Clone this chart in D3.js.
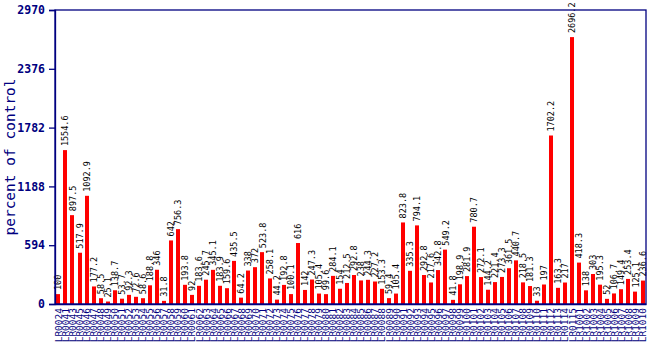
<!DOCTYPE html>
<html><head><meta charset="utf-8">
<script src="https://cdn.jsdelivr.net/npm/d3@7"></script>
<style>body{margin:0;background:#fff;}svg{display:block;}</style>
</head><body>
<svg id="c" width="650" height="350"></svg>
<script>
const categories = ["LR0024","LR0041","LR0043","LR0045","LR0046","LR0047","LR0048","LR0049","LR0050","LR0051",
"LR0052","LR0053","LR0054","LR0055","LR0056","LR0057","LR0058","LR0059","LR0060","LR0061",
"LR0062","LR0063","LR0064","LR0065","LR0066","LR0067","LR0068","LR0069","LR0070","LR0071",
"LR0072","LR0073","LR0074","LR0075","LR0076","LR0077","LR0078","LR0079","LR0080","LR0081",
"LR0082","LR0083","LR0084","LR0085","LR0086","LR0087","LR0088","LR0089","LR0090","LR0091",
"LR0092","LR0093","LR0094","LR0095","LR0096","LR0097","LR0098","LR0099","LR0100","LR0101",
"LR0102","LR0103","LR0104","LR0105","LR0106","LR0107","LR0108","LR0109","LR0110","LR0111",
"LR0112","LR0113","LR0114","LR0115","LR1001","LR1002","LR1003","LR1004","LR1005","LR1006",
"LR1007","LR1008","LR1009","LR1010"];
const values = [100,1554.6,897.5,517.9,1092.9,177.2,58.5,25.1,138.7,53.7,
92.3,72.6,58.6,188.8,346,31.8,642,756.3,193.8,92,
183.6,245.7,345.1,183.9,159.6,435.5,64.2,338,372,523.8,
258.1,44.2,192.8,100.1,616,142,247.3,105.4,99.6,284.1,
154,212.5,292.8,238,244.3,227.2,153.3,59.4,105.4,823.8,
335.3,794.1,292.8,217.6,342.8,549.2,41.8,198.9,281.9,780.7,
272.1,144.2,221.4,273.3,361.5,440.7,218.5,181.3,33,197,
1702.2,163.3,217,2696.2,418.3,138,303,195.3,52,106.7,
149.4,253.4,125.1,236.6];
const yTicks = [0,594,1188,1782,2376,2970];
const yTitle = "percent of control";

const navy = "#000080";
const m = {left:55, right:646, top:10, bottom:304};
const svg = d3.select("#c");
const x = d3.scaleBand().domain(categories).range([m.left, m.right]).paddingInner(0.42).paddingOuter(0.2);
const y = d3.scaleLinear().domain([0, 2970]).range([m.bottom, m.top]);

// bars
svg.append("g").selectAll("rect").data(values).join("rect")
  .attr("x", (d,i)=>Math.round(x(categories[i])))
  .attr("y", d=>y(d))
  .attr("width", Math.max(3, Math.round(x.bandwidth())))
  .attr("height", d=>m.bottom - y(d))
  .attr("fill", "#ff0000");

// value labels
svg.append("g").selectAll("text").data(values).join("text")
  .attr("transform", (d,i)=>`translate(${x(categories[i]) + x.bandwidth()/2 + 3},${y(d) - 4}) rotate(-90)`)
  .attr("font-family", "DejaVu Sans Mono, monospace")
  .attr("font-size", 8.5)
  .attr("fill", "#000")
  .text(d=>d);

// frame
svg.append("rect").attr("x", m.left).attr("y", m.top).attr("width", m.right-m.left).attr("height", m.bottom-m.top)
  .attr("fill","none").attr("stroke", navy).attr("stroke-width",1.3);

// y axis
const ya = svg.append("g").attr("transform", `translate(${m.left},0)`)
  .call(d3.axisLeft(y).tickValues(yTicks).tickSize(6).tickFormat(d3.format("d")));
ya.select(".domain").attr("stroke", navy).attr("stroke-width",1.3);
ya.selectAll("line").attr("stroke", navy).attr("stroke-width",1.3);
ya.selectAll("text").attr("fill", navy).attr("font-family","DejaVu Sans Mono, monospace")
  .attr("font-weight","bold").attr("font-size",11.5).attr("dx","-1");

// x axis
const xa = svg.append("g").attr("transform", `translate(0,${m.bottom})`)
  .call(d3.axisBottom(x).tickSize(0));
xa.select(".domain").attr("stroke", navy).attr("stroke-width",1.3);
xa.selectAll("text").attr("fill", navy).attr("font-family","DejaVu Sans Mono, monospace")
  .attr("font-size",9.5).attr("text-anchor","end")
  .attr("transform","rotate(-90)").attr("x",-4).attr("y",0).attr("dy","0.35em");

// y title
svg.append("text").attr("transform", `translate(15,${(m.top+m.bottom)/2}) rotate(-90)`)
  .attr("text-anchor","middle").attr("font-family","DejaVu Sans Mono, monospace")
  .attr("font-size",14.5).attr("fill", navy).text(yTitle);
</script>
</body></html>
